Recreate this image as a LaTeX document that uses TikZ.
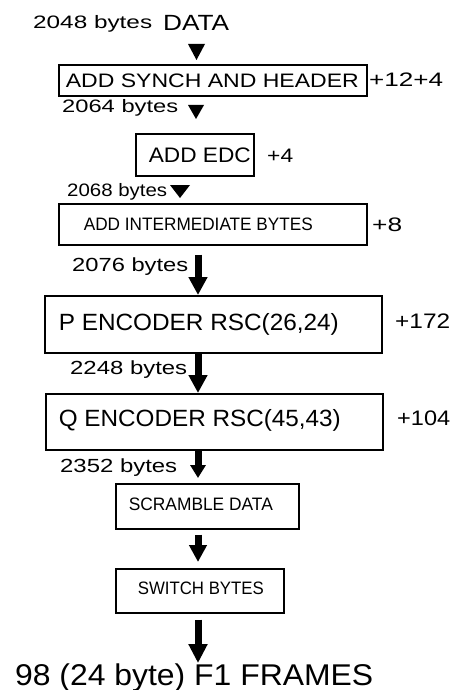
\documentclass[tikz,border=0pt]{standalone}
\usepackage{fontspec}
\setmainfont{Liberation Sans}
\usetikzlibrary{arrows.meta}
% text of a given size, stretched sideways to a given width
\newcommand\wtxt[3]{{\fontsize{#2}{#2}\selectfont\resizebox{#1pt}{\height}{#3}}}
% box content: full box width, left pad, text width, size, text
\newcommand\boxline[5]{\makebox[#1pt][l]{\hspace*{#2pt}\wtxt{#3}{#4}{#5}}}
\begin{document}
\begin{tikzpicture}[x=1pt,y=-1pt,
  lbl/.style={anchor=base west,inner sep=0pt},
  stagebox/.style={draw,line width=1.7pt,anchor=north west,inner xsep=0pt,inner ysep=0pt},
  headtri/.style={fill=black},
  flow/.style={line width=7pt,shorten <=#1},
  flow/.default=0pt]
\useasboundingbox (0,0) rectangle (453,690);

% axis of the heavy arrows
\coordinate (ax) at (198,0);

% top input
\node[lbl] (t2048) at (33,29) {\wtxt{119}{18}{2048 bytes}};
\node[lbl] (tdata) at (163,31) {\wtxt{66}{22}{DATA}};
\fill[headtri] (188,44) -- (205,44) -- (196.5,60) -- cycle;

% synch and header
\node[stagebox,minimum width=308pt,minimum height=31pt,text height=14pt,text depth=0pt]
  (b1) at (58,64) {\boxline{308}{7}{293}{19.5}{ADD SYNCH AND HEADER}};
\node[lbl] (p1) at (369,87) {\wtxt{74}{19.5}{+12+4}};

\node[lbl] (t2064) at (62,113) {\wtxt{116}{18}{2064 bytes}};
\fill[headtri] (188,105) -- (204,105) -- (196,119) -- cycle;

% EDC
\node[stagebox,minimum width=118pt,minimum height=42pt,text height=15pt,text depth=0pt]
  (b2) at (135,133) {\boxline{118}{13}{102}{21}{ADD EDC}};
\node[lbl] (p2) at (267,162) {\wtxt{26}{19.5}{+4}};

\node[lbl] (t2068) at (67,196) {\wtxt{100}{18}{2068 bytes}};
\fill[headtri] (170,185) -- (190,185) -- (180,198) -- cycle;

% intermediate bytes
\node[stagebox,minimum width=308pt,minimum height=41pt,text height=13pt,text depth=0pt]
  (b3) at (58,203) {\boxline{308}{25}{229}{18}{ADD INTERMEDIATE BYTES}};
\node[lbl] (p3) at (372,231) {\wtxt{30}{19.5}{+8}};

\node[lbl] (t2076) at (72,271) {\wtxt{116}{19}{2076 bytes}};

% P encoder
\node[stagebox,minimum width=337pt,minimum height=57pt,text height=17pt,text depth=5pt]
  (b4) at (44,295) {\boxline{337}{14}{280}{23.5}{P ENCODER RSC(26,24)}};
\node[lbl] (p4) at (395,328) {\wtxt{55}{21}{+172}};

\node[lbl] (t2248) at (70,374) {\wtxt{117}{19}{2248 bytes}};

% Q encoder
\node[stagebox,minimum width=337pt,minimum height=56pt,text height=17pt,text depth=8pt]
  (b5) at (45,393) {\boxline{337}{13}{282}{23.5}{Q ENCODER RSC(45,43)}};
\node[lbl] (p5) at (397,425) {\wtxt{53}{21}{+104}};

\node[lbl] (t2352) at (60,472) {\wtxt{117}{19}{2352 bytes}};

% scrambler and byte swap
\node[stagebox,minimum width=183pt,minimum height=45pt,text height=13pt,text depth=5pt]
  (b6) at (115,483) {\boxline{183}{13}{144}{18}{SCRAMBLE DATA}};
\node[stagebox,minimum width=168pt,minimum height=44pt,text height=13pt,text depth=6pt]
  (b7) at (115,568) {\boxline{168}{22}{126}{18}{SWITCH BYTES}};

% output
\node[lbl] (out) at (15,685) {\wtxt{358}{30}{98 (24 byte) F1 FRAMES}};

% heavy arrows
\draw[flow=9pt,-{Triangle[length=18pt,width=18pt]}] (b3.south -| ax) -- (b4.north -| ax);
\draw[flow,-{Triangle[length=18pt,width=18pt]}] (b4.south -| ax) -- (b5.north -| ax);
\draw[flow,shorten >=5pt,-{Triangle[length=13pt,width=15pt]}] (b5.south -| ax) -- (b6.north -| ax);
\draw[flow=5pt,shorten >=6pt,-{Triangle[length=17pt,width=17pt]}] (b6.south -| ax) -- (b7.north -| ax);
\draw[flow=6pt,-{Triangle[length=19pt,width=18pt]}] (b7.south -| ax) -- (out.north -| ax);
\end{tikzpicture}
\end{document}
